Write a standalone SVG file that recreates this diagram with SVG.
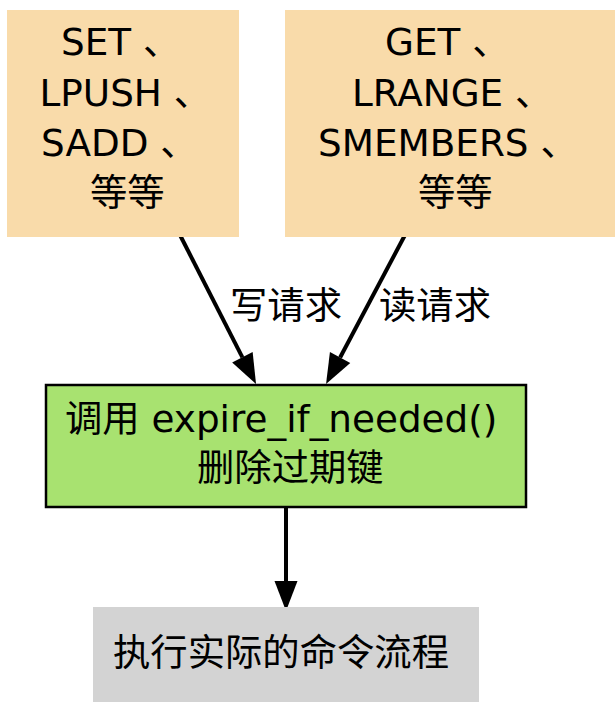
<svg xmlns="http://www.w3.org/2000/svg" width="615" height="702" viewBox="0 0 615 702">
<defs>
<style>
text{font-family:"DejaVu Sans","Noto Sans CJK SC",sans-serif;font-size:37.33px;fill:#000}
.cmd{fill:#f9dbaa;stroke:none}
.proc{fill:#a8e270;stroke:#000;stroke-width:2.5}
.exec{fill:#d3d3d3;stroke:none}
.edge{fill:none;stroke:#000;stroke-width:4}
</style>
<marker id="arr" markerUnits="userSpaceOnUse" markerWidth="31" markerHeight="24" refX="0" refY="11.5" orient="auto" overflow="visible">
<path d="M0,0 L30,11.5 L0,23 Z" fill="#000"/>
</marker>
</defs>
<rect width="615" height="702" fill="#fff"/>
<g id="connectors">
<line class="edge" x1="180" y1="235" x2="242.4" y2="357.3" marker-end="url(#arr)"/>
<line class="edge" x1="405" y1="235" x2="340.1" y2="357.5" marker-end="url(#arr)"/>
<line class="edge" x1="286" y1="508" x2="286" y2="581" marker-end="url(#arr)"/>
<text x="230" y="319">写请求</text>
<text x="379" y="319">读请求</text>
</g>
<g id="write-cmds">
<rect class="cmd" x="7" y="10" width="232" height="227"/>
<text x="61" y="55">SET 、</text>
<text x="39.5" y="106">LPUSH 、</text>
<text x="41" y="156">SADD 、</text>
<text x="90" y="206">等等</text>
</g>
<g id="read-cmds">
<rect class="cmd" x="285" y="10" width="330" height="227"/>
<text x="385" y="55">GET 、</text>
<text x="352" y="106">LRANGE 、</text>
<text x="318" y="156">SMEMBERS 、</text>
<text x="418" y="206">等等</text>
</g>
<g id="expire">
<rect class="proc" x="46" y="385" width="480" height="122"/>
<text x="65" y="432">调用 expire_if_needed()</text>
<text x="197" y="481">删除过期键</text>
</g>
<g id="execute">
<rect class="exec" x="93" y="607" width="386" height="95"/>
<text x="113" y="666">执行实际的命令流程</text>
</g>
</svg>
